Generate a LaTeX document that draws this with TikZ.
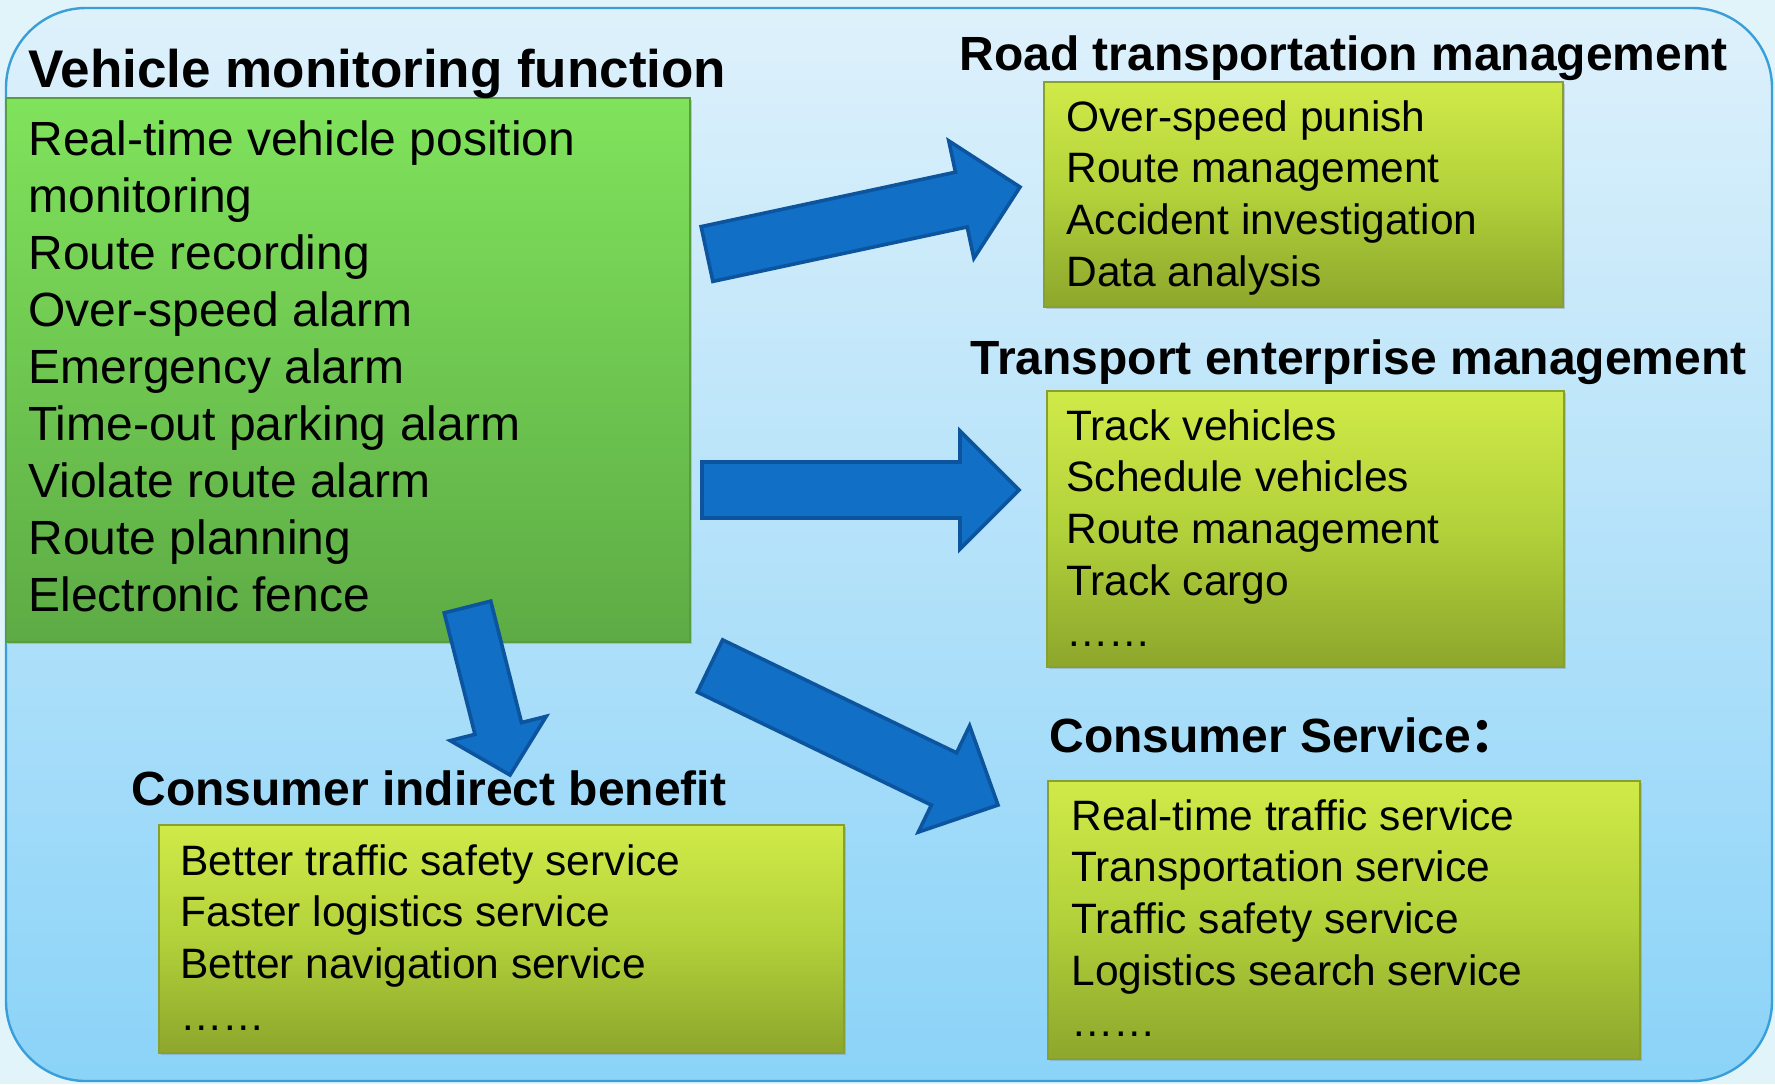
\documentclass[tikz,border=0pt]{standalone}
\usepackage{fontspec}
\setmainfont{Liberation Sans}
\newfontfamily\cjk{Noto Sans CJK SC}
\usetikzlibrary{calc,shadows}
\definecolor{outerbg}{HTML}{E0F4FA}
\definecolor{bgtop}{HTML}{DEF1FB}
\definecolor{bgbot}{HTML}{8BD3F8}
\definecolor{bgedge}{HTML}{3A9FD8}
\definecolor{grtop}{HTML}{80E35C}
\definecolor{grbot}{HTML}{5DAB45}
\definecolor{gredge}{HTML}{5A9C40}
\definecolor{yltop}{HTML}{D0EA48}
\definecolor{ylmid}{HTML}{B2D13A}
\definecolor{ylbot}{HTML}{8DA62C}
\definecolor{yledge}{HTML}{87A02E}
\definecolor{arrfill}{HTML}{1170C6}
\definecolor{arredge}{HTML}{0C559E}
\tikzset{
  gbox/.style={draw=gredge, line width=0.6pt, top color=grtop, bottom color=grbot,
    anchor=north west, inner sep=0pt, outer sep=0pt,
    drop shadow={shadow xshift=0.8pt, shadow yshift=-0.8pt, opacity=0.35}},
  ybox/.style={draw=yledge, line width=0.6pt, top color=yltop, bottom color=ylbot, middle color=ylmid,
    anchor=north west, inner sep=0pt, outer sep=0pt,
    drop shadow={shadow xshift=0.8pt, shadow yshift=-0.8pt, opacity=0.35}},
  head/.style={anchor=base west, inner sep=0pt, font=\bfseries\fontsize{24pt}{28pt}\selectfont},
  bigtxt/.style={anchor=base west, inner sep=0pt, font=\fontsize{24pt}{28.5pt}\selectfont},
  smalltxt/.style={anchor=base west, inner sep=0pt, font=\fontsize{21.25pt}{25.85pt}\selectfont},
  bluearrow/.style={fill=arrfill, draw=arredge, line width=1.8pt, line join=miter}
}
\newcommand{\blkarrow}[5]{%
  \coordinate (#1h) at ($(#2)!#5!(#1)$);
  \draw[bluearrow] ($(#1)!#3!90:(#2)$) -- ($(#1h)!#3!90:(#2)$) -- ($(#1h)!#4!90:(#2)$)
    -- (#2) -- ($(#1h)!#4!-90:(#2)$) -- ($(#1h)!#3!-90:(#2)$) -- ($(#1)!#3!-90:(#2)$) -- cycle;}
\begin{document}
\begin{tikzpicture}[x=0.5pt,y=-0.5pt]
\useasboundingbox (0,0) rectangle (1775,1084);
\fill[outerbg] (0,0) rectangle (1775,1084);
\path[draw=bgedge, line width=1.2pt, top color=bgtop, bottom color=bgbot, rounded corners=40pt]
  (6,8) rectangle (1772,1081);

% boxes
\node[gbox, minimum width=342pt, minimum height=272pt] (vm) at (6,98) {};
\node[ybox, minimum width=259.5pt, minimum height=112.5pt] (road) at (1044,82) {};
\node[ybox, minimum width=258.5pt, minimum height=138pt] (trans) at (1047,391) {};
\node[ybox, minimum width=296pt, minimum height=139pt] (cs) at (1048,781) {};
\node[ybox, minimum width=342.5pt, minimum height=114pt] (ind) at (159,825) {};

% arrows
\coordinate (a1t) at (707,254);   \coordinate (a1p) at (1020,187);
\coordinate (a2t) at (702,490);   \coordinate (a2p) at (1019,490);
\coordinate (a3t) at (710,666);   \coordinate (a3p) at (998,805);
\coordinate (a4t) at (467.5,607); \coordinate (a4p) at (510,775);
\blkarrow{a1t}{a1p}{14pt}{30pt}{30pt}
\blkarrow{a2t}{a2p}{14pt}{29.5pt}{29.5pt}
\blkarrow{a3t}{a3p}{14.5pt}{29.5pt}{30pt}
\blkarrow{a4t}{a4p}{12pt}{24.75pt}{24pt}

% headings
\node[head, font=\bfseries\fontsize{26.5pt}{30pt}\selectfont] (tvm) at (28,87) {Vehicle monitoring function};
\node[head] (troad) at (959,70) {Road transportation management};
\node[head] (ttrans) at (970,374) {Transport enterprise management};
\node[head] (tcs) at (1049,752) {Consumer Service{\cjk ：}};
\node[head] (tind) at (131,805) {Consumer indirect benefit};

% texts
\node[bigtxt] (lvm) at (28,155) {\begin{tabular}[t]{@{}l@{}}
Real-time vehicle position\\ monitoring\\ Route recording\\ Over-speed alarm\\
Emergency alarm\\ Time-out parking alarm\\ Violate route alarm\\ Route planning\\
Electronic fence\end{tabular}};
\node[smalltxt] (lroad) at (1066,131) {\begin{tabular}[t]{@{}l@{}}
Over-speed punish\\ Route management\\ Accident investigation\\ Data analysis\end{tabular}};
\node[smalltxt] (ltrans) at (1066,440) {\begin{tabular}[t]{@{}l@{}}
Track vehicles\\ Schedule vehicles\\ Route management\\ Track cargo\\ ……\end{tabular}};
\node[smalltxt] (lcs) at (1071,830) {\begin{tabular}[t]{@{}l@{}}
Real-time traffic service\\ Transportation service\\ Traffic safety service\\
Logistics search service\\ ……\end{tabular}};
\node[smalltxt] (lind) at (180,875) {\begin{tabular}[t]{@{}l@{}}
Better traffic safety service\\ Faster logistics service\\ Better navigation service\\ ……\end{tabular}};
\end{tikzpicture}
\end{document}
